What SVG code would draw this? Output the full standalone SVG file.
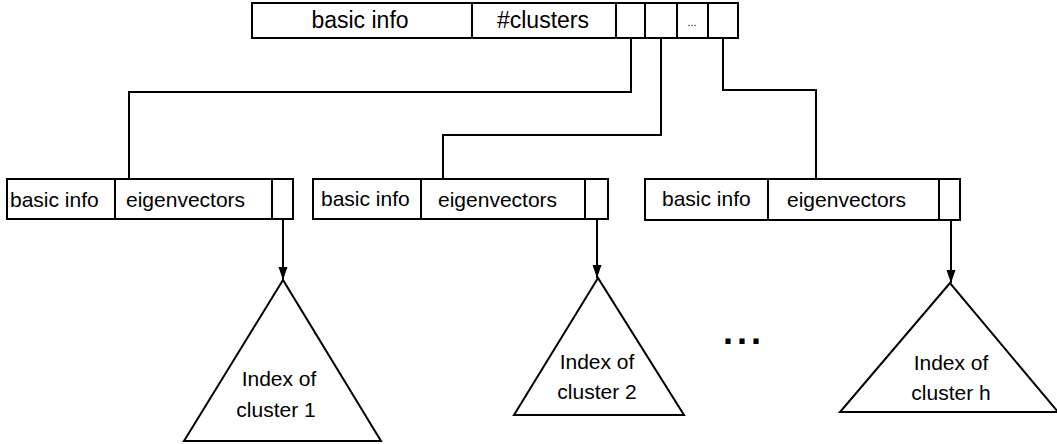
<svg xmlns="http://www.w3.org/2000/svg" width="1057" height="444" viewBox="0 0 1057 444">
  <style>
    .box { fill: #fff; stroke: #000; stroke-width: 2; }
    .div { stroke: #000; stroke-width: 2; }
    .wire { fill: none; stroke: #000; stroke-width: 2; }
    .tri { fill: #fff; stroke: #000; stroke-width: 2; stroke-linejoin: miter; }
    text { font-family: "Liberation Sans", Arial, sans-serif; fill: #000; }
    .lbl { font-size: 21px; }
    .top { font-size: 23px; }
    .mid { text-anchor: middle; }
  </style>
  <defs>
    <marker id="arrow" markerWidth="14" markerHeight="10" refX="13" refY="4.5" orient="auto" markerUnits="userSpaceOnUse">
      <path d="M0,0 L13,4.5 L0,9 Z" fill="#000"/>
    </marker>
  </defs>

  <rect width="1057" height="444" fill="#fff"/>

  <!-- root record: basic info, #clusters, child pointers -->
  <g id="root">
    <rect class="box" x="252" y="3" width="486" height="35"/>
    <line class="div" x1="472" y1="3" x2="472" y2="38"/>
    <line class="div" x1="616" y1="3" x2="616" y2="38"/>
    <line class="div" x1="645" y1="3" x2="645" y2="38"/>
    <line class="div" x1="677" y1="3" x2="677" y2="38"/>
    <line class="div" x1="708" y1="3" x2="708" y2="38"/>
    <text class="top mid" x="360" y="28">basic info</text>
    <text class="top mid" x="543" y="28">#clusters</text>
    <text class="mid" x="692" y="26" font-size="11">...</text>
  </g>

  <!-- cluster records -->
  <g id="cluster1">
    <rect class="box" x="7" y="179" width="286" height="40"/>
    <line class="div" x1="115" y1="179" x2="115" y2="219"/>
    <line class="div" x1="272" y1="179" x2="272" y2="219"/>
    <text class="lbl" x="10" y="207">basic info</text>
    <text class="lbl" x="126" y="207">eigenvectors</text>
  </g>
  <g id="cluster2">
    <rect class="box" x="313" y="179" width="295" height="40"/>
    <line class="div" x1="421" y1="179" x2="421" y2="219"/>
    <line class="div" x1="585" y1="179" x2="585" y2="219"/>
    <text class="lbl" x="321" y="206">basic info</text>
    <text class="lbl" x="438" y="207">eigenvectors</text>
  </g>
  <g id="clusterh">
    <rect class="box" x="645" y="179" width="315" height="41"/>
    <line class="div" x1="768" y1="179" x2="768" y2="220"/>
    <line class="div" x1="939" y1="179" x2="939" y2="220"/>
    <text class="lbl" x="662" y="206">basic info</text>
    <text class="lbl" x="787" y="207">eigenvectors</text>
  </g>

  <!-- per-cluster index trees -->
  <g id="index1">
    <polygon class="tri" points="283,280 184,441 381,441"/>
    <text class="lbl mid" x="279" y="386">Index of</text>
    <text class="lbl mid" x="276" y="417">cluster 1</text>
  </g>
  <g id="index2">
    <polygon class="tri" points="598,278 514,415 684,415"/>
    <text class="lbl mid" x="597" y="369">Index of</text>
    <text class="lbl mid" x="597" y="399">cluster 2</text>
  </g>
  <g id="indexh">
    <polygon class="tri" points="950,283 840,412 1058,412"/>
    <text class="lbl mid" x="951" y="370">Index of</text>
    <text class="lbl mid" x="951" y="400">cluster h</text>
  </g>

  <text id="more" x="723" y="344" font-size="36" font-weight="bold" letter-spacing="4">...</text>

  <!-- connectors -->
  <g id="connectors">
    <polyline class="wire" points="631,38 631,92 129,92 129,179"/>
    <polyline class="wire" points="661,38 661,135 443,135 443,179"/>
    <polyline class="wire" points="723,38 723,90 816,90 816,179"/>
    <line class="wire" x1="283" y1="219" x2="283" y2="280" marker-end="url(#arrow)"/>
    <line class="wire" x1="597" y1="219" x2="597" y2="278" marker-end="url(#arrow)"/>
    <line class="wire" x1="951" y1="220" x2="951" y2="283" marker-end="url(#arrow)"/>
  </g>
</svg>
